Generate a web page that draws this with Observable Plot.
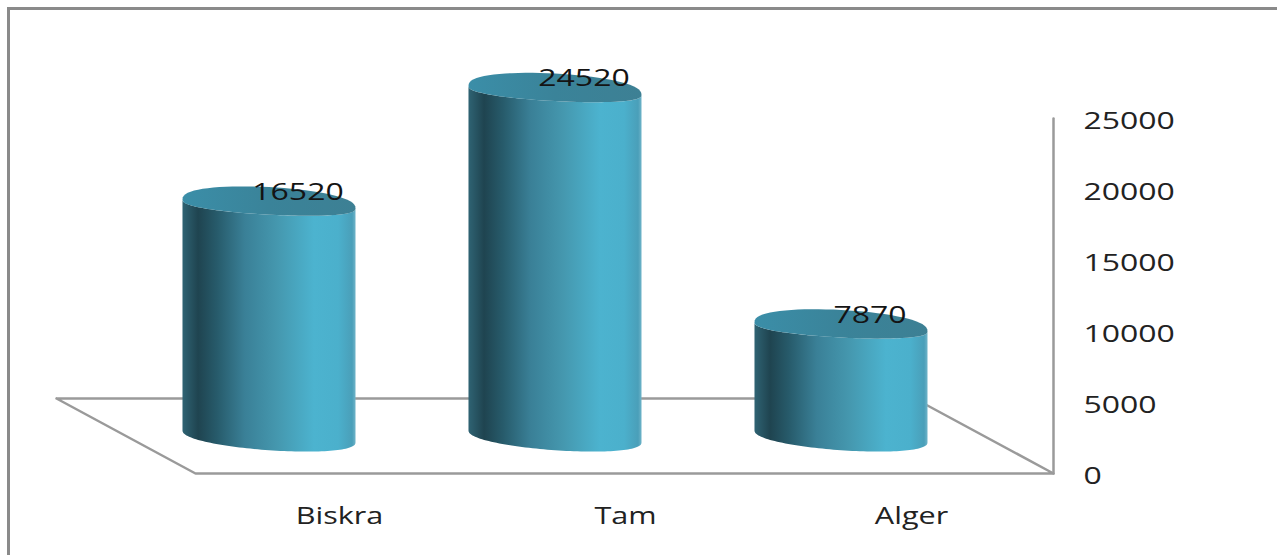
<!DOCTYPE html>
<html>
<head>
<meta charset="utf-8">
<script src="https://cdn.jsdelivr.net/npm/d3@7"></script>
<script src="https://cdn.jsdelivr.net/npm/@observablehq/plot@0.6"></script>
<style>
  html, body { margin: 0; padding: 0; background: #fff; overflow: hidden; }
  svg { display: block; }
</style>
</head>
<body>
<script>
// Figures per city
const categories = ["Biskra", "Tam", "Alger"];
const values = [16520, 24520, 7870];
const valueTicks = [0, 5000, 10000, 15000, 20000, 25000];

// Slots on the floor's front edge, one unit per city
const slots = [0.5, 1.5, 2.5];
const rows = categories.map((name, i) => ({name, slot: slots[i], value: values[i]}));

// Floor and back wall outlines in chart units
const floorDepthX = -0.486;
const floorDepthY = 5282;
const floor = [
  {x: floorDepthX, y: floorDepthY},
  {x: 0, y: 0},
  {x: 3, y: 0},
  {x: 3 + floorDepthX, y: floorDepthY},
  {x: floorDepthX, y: floorDepthY}
];
const wall = [{x: 3, y: 0}, {x: 3, y: 25000}];

// Cylinders stand halfway back on the floor
const columnHalfWidth = 0.3025;
const columnDx = -69;
const columnDy = -36.5;

const sideStops = [
  [0, "#2f6373"], [0.09, "#1f4450"], [0.2, "#275b6b"], [0.36, "#3a8097"],
  [0.55, "#4598af"], [0.76, "#4cb3cf"], [0.9, "#4bb0cc"], [0.98, "#4a9fb9"], [1, "#6fb4c9"]
];
const capStops = [[0, "#3b8ea8"], [0.5, "#3a8399"], [1, "#3d8094"]];

function addGradient(defs, id, stops) {
  const g = defs.append("linearGradient").attr("id", id);
  for (const [offset, color] of stops) {
    g.append("stop").attr("offset", offset).attr("stop-color", color);
  }
}

// Points along a rim whose far and near halves bulge by different amounts,
// which gives the flat perspective of the cylinder ends
function rimPoints(cx, cy, a, shape, from, to) {
  return d3.range(0, 73).map((k) => {
    const t = from + (to - from) * k / 72;
    const s = Math.sin(t);
    const bulge = Math.pow(Math.abs(s), shape.blunt);
    return [
      cx + a * Math.cos(t),
      cy + (s > 0 ? shape.near : -shape.far) * bulge + shape.tilt * Math.cos(t)
    ];
  });
}

const capShape = {far: 17, near: 10.6, tilt: 4.5, drop: 2.2, blunt: 0.82};
const baseShape = {far: 14, near: 13.7, tilt: 6, drop: 0, blunt: 0.9};

// Draws each rect of the mark as a cylinder with a tilted elliptical rim
function cylinders(index, scales, channels) {
  const {x1, x2, y1, y2} = channels;
  const root = d3.create("svg:g").attr("aria-label", "cylinder");
  const defs = root.append("defs");
  addGradient(defs, "side-shade", sideStops);
  addGradient(defs, "cap-shade", capStops);
  const line = d3.line();
  for (const i of index) {
    const left = Math.min(x1[i], x2[i]) + columnDx;
    const right = Math.max(x1[i], x2[i]) + columnDx;
    const a = (right - left) / 2;
    const cx = left + a;
    const top = Math.min(y1[i], y2[i]) + columnDy + capShape.drop;
    const base = Math.max(y1[i], y2[i]) + columnDy;
    const outline = [
      ...rimPoints(cx, base, a, baseShape, Math.PI, 0),
      ...rimPoints(cx, top, a, capShape, 0, Math.PI)
    ];
    root.append("path").attr("d", line(outline) + "Z").attr("fill", "url(#side-shade)");
    root.append("path")
      .attr("d", line(rimPoints(cx, top, a, capShape, 0, 2 * Math.PI)) + "Z")
      .attr("fill", "url(#cap-shade)");
  }
  return root.node();
}

const lineStyle = {x: "x", y: "y", stroke: "#9a9a9a", strokeWidth: 2.5};

const chart = Plot.plot({
  width: 1277,
  height: 555,
  marginTop: 8,
  marginLeft: 8,
  marginRight: 0,
  marginBottom: 0,
  style: {fontFamily: "'Open Sans', sans-serif", fontSize: "23px", background: "#fff", color: "#222"},
  x: {domain: [0, 3], range: [195, 1053]},
  y: {domain: [0, 25000], range: [473, 118]},
  marks: [
    Plot.frame({anchor: "top", stroke: "#8a8a8a", strokeWidth: 3}),
    Plot.frame({anchor: "left", stroke: "#8a8a8a", strokeWidth: 3}),
    Plot.line(floor, lineStyle),
    Plot.line(wall, lineStyle),
    Plot.rect(rows, {
      x1: (d) => d.slot - columnHalfWidth,
      x2: (d) => d.slot + columnHalfWidth,
      y1: () => 0,
      y2: "value",
      render: cylinders
    }),
    Plot.text(rows, {
      x: "slot",
      y: "value",
      text: (d) => String(d.value),
      dx: columnDx + 28.5,
      dy: columnDy - 10,
      fill: "#141414"
    }),
    Plot.axisY(valueTicks, {
      anchor: "right",
      tickSize: 0,
      tickPadding: 0,
      label: null,
      dx: -194,
      dy: 3,
      tickFormat: (d) => String(d),
      fill: "#222"
    }),
    Plot.axisX(slots, {
      anchor: "bottom",
      tickSize: 0,
      tickPadding: 0,
      label: null,
      dx: 1,
      dy: -48,
      tickFormat: (d) => categories[slots.indexOf(d)],
      fill: "#222"
    })
  ]
});

document.body.append(chart);

// The face is set wide: stretch glyphs horizontally to the drawn proportions
d3.select(chart).selectAll("text").each(function () {
  const width = this.getComputedTextLength();
  const stretch = categories.includes(this.textContent) ? 1.33 : 1.39;
  this.setAttribute("textLength", width * stretch);
  this.setAttribute("lengthAdjust", "spacingAndGlyphs");
});
</script>
</body>
</html>
